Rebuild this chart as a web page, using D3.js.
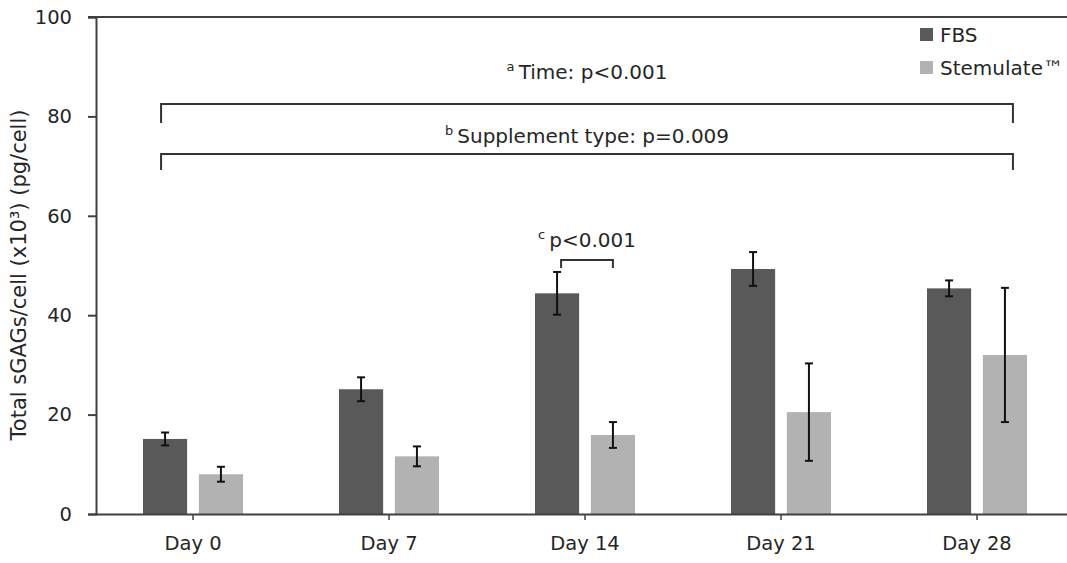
<!DOCTYPE html>
<html>
<head>
<meta charset="utf-8">
<script src="https://cdn.jsdelivr.net/npm/d3@7"></script>
<style>
  body { margin: 0; background: #fff; }
  text { font-family: "DejaVu Sans", sans-serif; fill: #262626; }
</style>
</head>
<body>
<div id="chart"></div>
<script>
// data
var days = ["Day 0", "Day 7", "Day 14", "Day 21", "Day 28"];
var series = ["FBS", "Stemulate\u2122"];
var fbsMean = [15.1, 25.1, 44.4, 49.3, 45.4];
var fbsErr = [1.3, 2.4, 4.3, 3.4, 1.6];
var stemMean = [8.0, 11.6, 15.9, 20.5, 32.0];
var stemErr = [1.5, 2.0, 2.6, 9.8, 13.5];
var yTicks = [0, 20, 40, 60, 80, 100];

var colors = ["#595959", "#b2b2b2"];

var width = 1067, height = 563;
var margin = {top: 17, left: 96, bottom: 49};

var svg = d3.select("#chart").append("svg")
    .attr("width", width)
    .attr("height", height);

var x = d3.scaleBand()
    .domain(days)
    .range([95, 95 + 196 * days.length]);

var xSub = d3.scaleBand()
    .domain(series)
    .range([x.bandwidth() / 2 - 50, x.bandwidth() / 2 + 50])
    .paddingInner(0.21);

var y = d3.scaleLinear()
    .domain([0, 100])
    .range([height - margin.bottom, margin.top]);

// top line at 100
svg.append("line")
    .attr("x1", margin.left - 8).attr("x2", width)
    .attr("y1", y(100)).attr("y2", y(100))
    .attr("stroke", "#404040").attr("stroke-width", 2);

// y axis
var yAxis = svg.append("g")
    .attr("transform", "translate(" + margin.left + ",0)")
    .call(d3.axisLeft(y).tickValues(yTicks).tickSize(8).tickPadding(16));
yAxis.select(".domain").attr("stroke", "#404040").attr("stroke-width", 2);
yAxis.selectAll(".tick line").attr("stroke", "#404040").attr("stroke-width", 2);
yAxis.selectAll(".tick text").style("font-size", "19.5px").style("font-family", "DejaVu Sans").attr("fill", "#262626");

// bars
var rows = days.map(function(d, i) {
  return [
    {day: d, s: series[0], v: fbsMean[i], e: fbsErr[i], c: colors[0]},
    {day: d, s: series[1], v: stemMean[i], e: stemErr[i], c: colors[1]}
  ];
});
var flat = d3.merge(rows);

svg.selectAll(".bar")
    .data(flat)
  .enter().append("rect")
    .attr("class", "bar")
    .attr("x", function(d) { return x(d.day) + xSub(d.s); })
    .attr("y", function(d) { return y(d.v); })
    .attr("width", xSub.bandwidth())
    .attr("height", function(d) { return y(0) - y(d.v); })
    .attr("fill", function(d) { return d.c; });

// error bars
var eb = svg.selectAll(".err")
    .data(flat)
  .enter().append("g")
    .attr("class", "err")
    .attr("transform", function(d) {
      return "translate(" + (x(d.day) + xSub(d.s) + xSub.bandwidth() / 2) + ",0)";
    });
eb.append("line")
    .attr("y1", function(d) { return y(d.v + d.e); })
    .attr("y2", function(d) { return y(d.v - d.e); });
eb.append("line")
    .attr("x1", -4).attr("x2", 4)
    .attr("y1", function(d) { return y(d.v + d.e); })
    .attr("y2", function(d) { return y(d.v + d.e); });
eb.append("line")
    .attr("x1", -4).attr("x2", 4)
    .attr("y1", function(d) { return y(d.v - d.e); })
    .attr("y2", function(d) { return y(d.v - d.e); });
eb.selectAll("line").attr("stroke", "#111").attr("stroke-width", 2);

// x axis
var xAxis = svg.append("g")
    .attr("transform", "translate(0," + y(0) + ")")
    .call(d3.axisBottom(x).tickSize(6).tickPadding(16).tickSizeOuter(0));
xAxis.select(".domain").attr("stroke", "#404040").attr("stroke-width", 2);
xAxis.selectAll(".tick line").attr("stroke", "#404040").attr("stroke-width", 1.5);
xAxis.selectAll(".tick text").style("font-size", "19.5px").style("font-family", "DejaVu Sans").attr("fill", "#262626");

// y label
svg.append("text")
    .attr("transform", "translate(26," + 275 + ") rotate(-90)")
    .attr("text-anchor", "middle")
    .style("font-size", "21px")
    .text("Total sGAGs/cell (x10\u00b3) (pg/cell)");

// legend
var legend = svg.selectAll(".legend")
    .data(series)
  .enter().append("g")
    .attr("class", "legend")
    .attr("transform", function(d, i) { return "translate(920," + (28 + i * 33) + ")"; });
legend.append("rect")
    .attr("width", 13).attr("height", 13)
    .attr("fill", function(d, i) { return colors[i]; });
legend.append("text")
    .attr("x", 20).attr("y", 14)
    .style("font-size", "20px")
    .text(function(d) { return d; });

// significance brackets
function bracket(x1, x2, yTop, drop) {
  svg.append("path")
      .attr("d", "M" + x1 + "," + (yTop + drop) + "V" + yTop + "H" + x2 + "V" + (yTop + drop))
      .attr("fill", "none")
      .attr("stroke", "#333")
      .attr("stroke-width", 2);
}
function note(xc, yb, sup, txt) {
  var t = svg.append("text")
      .attr("x", xc).attr("y", yb)
      .attr("text-anchor", "middle")
      .style("font-size", "20px");
  t.append("tspan").attr("dy", -8).style("font-size", "13px").text(sup + " ");
  t.append("tspan").attr("dy", 8).text(txt);
}

var bx0 = x(days[0]) + xSub(series[0]) + xSub.bandwidth() / 2 - 4;
var bx1 = x(days[4]) + xSub(series[1]) + xSub.bandwidth() / 2 + 8;
var mid = (bx0 + bx1) / 2;
bracket(bx0, bx1, 104, 19);
bracket(bx0, bx1, 154, 16);
note(mid, 79, "a", "Time: p<0.001");
note(mid, 143, "b", "Supplement type: p=0.009");

var cx0 = x(days[2]) + xSub(series[0]) + xSub.bandwidth() / 2 + 4;
var cx1 = x(days[2]) + xSub(series[1]) + xSub.bandwidth() / 2;
bracket(cx0, cx1, 260, 8);
note((cx0 + cx1) / 2, 247, "c", "p<0.001");
</script>
</body>
</html>
